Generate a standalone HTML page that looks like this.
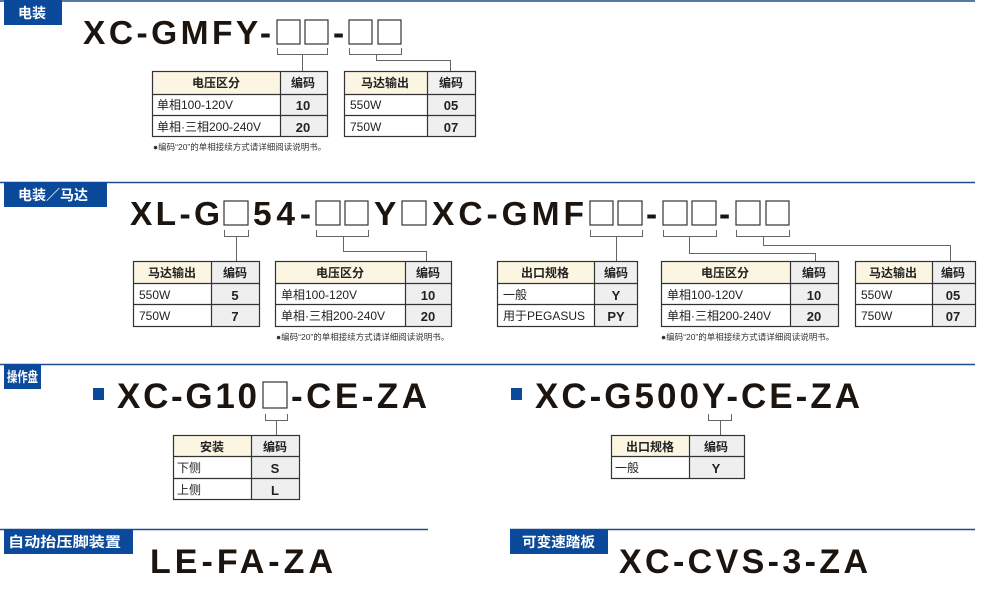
<!DOCTYPE html>
<html><head><meta charset="utf-8"><style>
html,body{margin:0;padding:0;background:#fff;width:987px;height:603px;overflow:hidden}
svg{display:block}
text{font-family:"Liberation Sans","Noto Sans CJK SC",sans-serif}
.t{font-weight:bold;fill:#1c140e}
.lb{font-weight:bold;fill:#fff;font-size:14px}
.h{font-weight:bold;font-size:12px;fill:#222;text-anchor:middle}
.c{font-weight:bold;font-size:13px;fill:#222;text-anchor:middle}
.b{font-size:12px;fill:#222}
.n{font-size:8.5px;fill:#333}
.bx{fill:#fff;stroke:#333;stroke-width:1.2}
.br{fill:none;stroke:#666;stroke-width:1}
</style></head><body>
<svg width="987" height="603" viewBox="0 0 987 603" xmlns="http://www.w3.org/2000/svg">
<g stroke="#1f4e8a" stroke-width="1.5">
<line x1="0" y1="1" x2="975" y2="1"/>
<line x1="0" y1="182.5" x2="975" y2="182.5"/>
<line x1="0" y1="364.5" x2="975" y2="364.5"/>
<line x1="0" y1="529.5" x2="428" y2="529.5"/>
<line x1="510" y1="529.5" x2="975" y2="529.5"/>
</g>
<g fill="#0b4a9a">
<rect x="4" y="0" width="58" height="25"/>
<rect x="4" y="182" width="103" height="25"/>
<rect x="4" y="364" width="37" height="25"/>
<rect x="4" y="529" width="129" height="25"/>
<rect x="510" y="529" width="98" height="25"/>
<rect x="93" y="388" width="11" height="12"/>
<rect x="511" y="388" width="11" height="12"/>
</g>
<text class="lb" x="18" y="18">电装</text>
<text class="lb" x="18" y="200">电装／马达</text>
<text class="lb" x="7" y="382" font-size="13" textLength="31" lengthAdjust="spacingAndGlyphs">操作盘</text>
<text class="lb" x="8" y="547" font-size="13" textLength="113" lengthAdjust="spacingAndGlyphs">自动抬压脚装置</text>
<text class="lb" x="522" y="547" font-size="13" textLength="73" lengthAdjust="spacingAndGlyphs">可变速踏板</text>

<!-- Section 1 title -->
<text class="t" x="83" y="44" font-size="33.5" textLength="188" lengthAdjust="spacing">XC-GMFY-</text>
<rect class="bx" x="277" y="20" width="23" height="24"/><rect class="bx" x="305" y="20" width="23" height="24"/>
<text class="t" x="333" y="44" font-size="33.5">-</text>
<rect class="bx" x="349" y="20" width="23" height="24"/><rect class="bx" x="378" y="20" width="23" height="24"/>
<path class="br" d="M277.5 48V54.5H327.5V48M302.5 54.5V71M349.5 48V54.5H401.5V48M376.5 54.5V60.5H450.5V71"/>

<rect x="152" y="71" width="175" height="23" fill="#fbf5e2"/><rect x="280" y="71" width="47" height="23" fill="#f1f1f1"/><rect x="280" y="94" width="47" height="42" fill="#efefef"/>
<rect x="344" y="71" width="131" height="23" fill="#fbf5e2"/><rect x="427" y="71" width="48" height="23" fill="#f1f1f1"/><rect x="427" y="94" width="48" height="42" fill="#efefef"/>
<g fill="none" stroke="#333" stroke-width="1.2">
<rect x="152.5" y="71.5" width="175" height="65"/><path d="M280.5 71.5V136.5M152.5 94.5H327.5M152.5 115.5H327.5"/>
<rect x="344.5" y="71.5" width="131" height="65"/><path d="M427.5 71.5V136.5M344.5 94.5H475.5M344.5 115.5H475.5"/>
</g>
<text class="h" x="216" y="87">电压区分</text><text class="h" x="303" y="87">编码</text>
<text class="b" x="157" y="109">单相100-120V</text><text class="c" x="303" y="110">10</text>
<text class="b" x="157" y="131">单相·三相200-240V</text><text class="c" x="303" y="132">20</text>
<text class="h" x="385" y="87">马达输出</text><text class="h" x="451" y="87">编码</text>
<text class="b" x="350" y="109">550W</text><text class="c" x="451" y="110">05</text>
<text class="b" x="350" y="131">750W</text><text class="c" x="451" y="132">07</text>
<text class="n" x="153" y="150">●编码“20”的单相接续方式请详细阅读说明书。</text>

<!-- Section 2 title -->
<text class="t" x="130" y="225" font-size="33.5" textLength="90" lengthAdjust="spacing">XL-G</text>
<rect class="bx" x="224" y="201" width="24" height="24"/>
<text class="t" x="253" y="225" font-size="33.5" textLength="58" lengthAdjust="spacing">54-</text>
<rect class="bx" x="316" y="201" width="24" height="24"/><rect class="bx" x="345" y="201" width="23" height="24"/>
<text class="t" x="374" y="225" font-size="33.5">Y</text>
<rect class="bx" x="402" y="201" width="24" height="24"/>
<text class="t" x="432" y="225" font-size="33.5" textLength="152" lengthAdjust="spacing">XC-GMF</text>
<rect class="bx" x="590" y="201" width="23" height="24"/><rect class="bx" x="618" y="201" width="24" height="24"/>
<text class="t" x="646" y="225" font-size="33.5">-</text>
<rect class="bx" x="663" y="201" width="24" height="24"/><rect class="bx" x="692" y="201" width="24" height="24"/>
<text class="t" x="719" y="225" font-size="33.5">-</text>
<rect class="bx" x="736" y="201" width="24" height="24"/><rect class="bx" x="766" y="201" width="23" height="24"/>
<path class="br" d="M224.5 230V236.5H248.5V230M236.5 236.5V261M316.5 230V236.5H368.5V230M343.5 236.5V251.5H426.5V261M590.5 230V236.5H642.5V230M616.5 236.5V261M663.5 230V236.5H716.5V230M689.5 236.5V253.5H815.5V261M736.5 230V236.5H789.5V230M763.5 236.5V245.5H950.5V261"/>

<g>
<rect x="133" y="261" width="126" height="22" fill="#fbf5e2"/><rect x="211" y="261" width="48" height="65" fill="#efefef"/>
<rect x="275" y="261" width="176" height="22" fill="#fbf5e2"/><rect x="405" y="261" width="46" height="65" fill="#efefef"/>
<rect x="497" y="261" width="140" height="22" fill="#fbf5e2"/><rect x="594" y="261" width="43" height="65" fill="#efefef"/>
<rect x="661" y="261" width="177" height="22" fill="#fbf5e2"/><rect x="790" y="261" width="48" height="65" fill="#efefef"/>
<rect x="855" y="261" width="120" height="22" fill="#fbf5e2"/><rect x="932" y="261" width="43" height="65" fill="#efefef"/>
</g>
<g fill="none" stroke="#333" stroke-width="1.2">
<rect x="133.5" y="261.5" width="126" height="65"/><path d="M211.5 261.5V326.5M133.5 283.5H259.5M133.5 304.5H259.5"/>
<rect x="275.5" y="261.5" width="176" height="65"/><path d="M405.5 261.5V326.5M275.5 283.5H451.5M275.5 304.5H451.5"/>
<rect x="497.5" y="261.5" width="140" height="65"/><path d="M594.5 261.5V326.5M497.5 283.5H637.5M497.5 304.5H637.5"/>
<rect x="661.5" y="261.5" width="177" height="65"/><path d="M790.5 261.5V326.5M661.5 283.5H838.5M661.5 304.5H838.5"/>
<rect x="855.5" y="261.5" width="120" height="65"/><path d="M932.5 261.5V326.5M855.5 283.5H975.5M855.5 304.5H975.5"/>
</g>
<text class="h" x="172" y="277">马达输出</text><text class="h" x="235" y="277">编码</text>
<text class="b" x="139" y="299">550W</text><text class="c" x="235" y="300">5</text>
<text class="b" x="139" y="320">750W</text><text class="c" x="235" y="321">7</text>
<text class="h" x="340" y="277">电压区分</text><text class="h" x="428" y="277">编码</text>
<text class="b" x="281" y="299">单相100-120V</text><text class="c" x="428" y="300">10</text>
<text class="b" x="281" y="320">单相·三相200-240V</text><text class="c" x="428" y="321">20</text>
<text class="h" x="545" y="277">出口规格</text><text class="h" x="616" y="277">编码</text>
<text class="b" x="503" y="299">一般</text><text class="c" x="616" y="300">Y</text>
<text class="b" x="503" y="320">用于PEGASUS</text><text class="c" x="616" y="321">PY</text>
<text class="h" x="725" y="277">电压区分</text><text class="h" x="814" y="277">编码</text>
<text class="b" x="667" y="299">单相100-120V</text><text class="c" x="814" y="300">10</text>
<text class="b" x="667" y="320">单相·三相200-240V</text><text class="c" x="814" y="321">20</text>
<text class="h" x="893" y="277">马达输出</text><text class="h" x="953" y="277">编码</text>
<text class="b" x="861" y="299">550W</text><text class="c" x="953" y="300">05</text>
<text class="b" x="861" y="320">750W</text><text class="c" x="953" y="321">07</text>
<text class="n" x="276" y="340">●编码“20”的单相接续方式请详细阅读说明书。</text>
<text class="n" x="661" y="340">●编码“20”的单相接续方式请详细阅读说明书。</text>

<!-- Section 3 -->
<text class="t" x="117" y="408" font-size="35" textLength="140" lengthAdjust="spacing">XC-G10</text>
<rect class="bx" x="263" y="382" width="24" height="26"/>
<text class="t" x="291" y="408" font-size="35" textLength="136" lengthAdjust="spacing">-CE-ZA</text>
<path class="br" d="M265.5 414V420.5H287.5V414M276.5 420.5V435"/>
<text class="t" x="535" y="408" font-size="35" textLength="325" lengthAdjust="spacing">XC-G500Y-CE-ZA</text>
<path class="br" d="M708.5 414V420.5H731.5V414M720.5 420.5V435"/>
<rect x="173" y="435" width="126" height="21" fill="#fbf5e2"/><rect x="251" y="435" width="48" height="64" fill="#efefef"/>
<rect x="611" y="435" width="133" height="21" fill="#fbf5e2"/><rect x="689" y="435" width="55" height="43" fill="#efefef"/>
<g fill="none" stroke="#333" stroke-width="1.2">
<rect x="173.5" y="435.5" width="126" height="64"/><path d="M251.5 435.5V499.5M173.5 456.5H299.5M173.5 478.5H299.5"/>
<rect x="611.5" y="435.5" width="133" height="43"/><path d="M689.5 435.5V478.5M611.5 456.5H744.5"/>
</g>
<text class="h" x="212" y="451">安装</text><text class="h" x="275" y="451">编码</text>
<text class="b" x="177" y="472">下侧</text><text class="c" x="275" y="473">S</text>
<text class="b" x="177" y="494">上侧</text><text class="c" x="275" y="495">L</text>
<text class="h" x="650" y="451">出口规格</text><text class="h" x="716" y="451">编码</text>
<text class="b" x="615" y="472">一般</text><text class="c" x="716" y="473">Y</text>

<!-- Section 4 -->
<text class="t" x="150" y="573" font-size="34" textLength="183" lengthAdjust="spacing">LE-FA-ZA</text>
<text class="t" x="619" y="573" font-size="34" textLength="249" lengthAdjust="spacing">XC-CVS-3-ZA</text>
</svg>
</body></html>
